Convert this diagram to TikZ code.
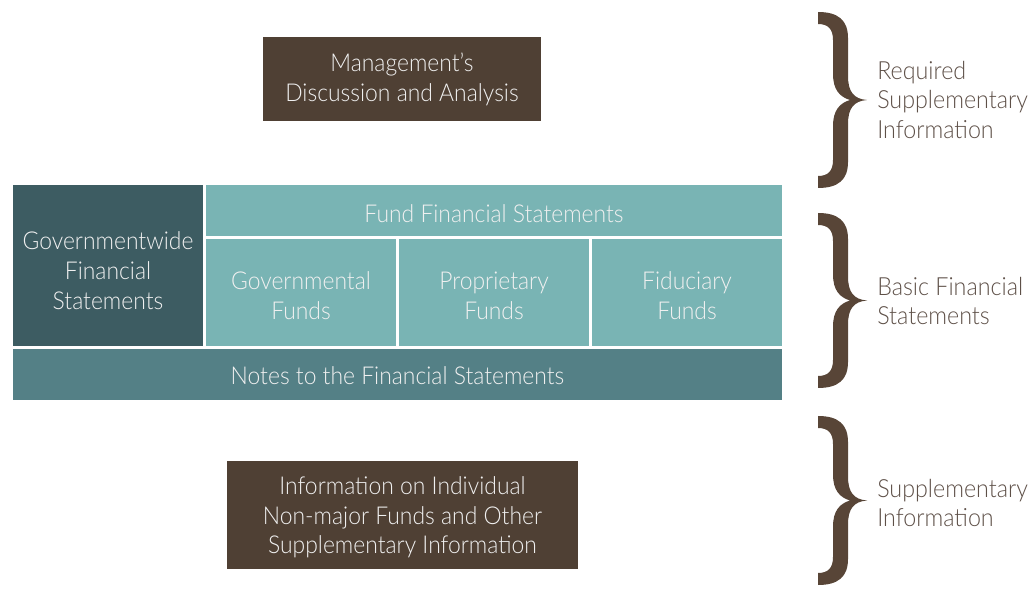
\documentclass[tikz,border=0pt]{standalone}
\usepackage{fontspec}
\setmainfont{Lato Light}[FakeStretch=0.93]

\definecolor{darkbrown}{HTML}{4F4034}
\definecolor{bracebrown}{HTML}{584537}
\definecolor{labelgrey}{HTML}{5E5048}
\definecolor{darkteal}{HTML}{3D5C62}
\definecolor{midteal}{HTML}{548086}
\definecolor{lightteal}{HTML}{79B4B4}

\newcommand\topfix[1]{\rule{0pt}{#1}}      % height of first line
\newcommand\botfix{\rule[-5pt]{0pt}{0pt}}  % depth of last line

\tikzset{statement/.style={inner sep=0pt, align=center, text=white!94!black,
                           font=\fontsize{17.5}{21.3}\selectfont}}
\tikzset{sidelabel/.style={inner sep=0pt, align=left, anchor=west, text=labelgrey,
                           font=\fontsize{17.8}{21.3}\selectfont}}

\begin{document}
\begin{tikzpicture}[x=0.025cm, y=-0.025cm]
  \useasboundingbox (0,0) rectangle (1032,589);
  %
  % boxes (sizes in cm, 1px = 0.025cm)
  \node[statement, fill=darkbrown, minimum width=6.95cm, minimum height=2.075cm]
       (mda) at (402,79) {\topfix{15.8pt}Management's\\Discussion and Analysis\botfix};
  \node[statement, fill=darkteal, minimum width=4.75cm, minimum height=4.025cm]
       (govwide) at (108,265.5) {\topfix{24.6pt}Governmentwide\\Financial\\Statements\botfix};
  \node[statement, fill=lightteal, minimum width=14.4cm, minimum height=1.275cm]
       (fundfs) at (494,210.5) {\topfix{22.2pt}Fund Financial Statements\botfix};
  \node[statement, fill=lightteal, minimum width=4.75cm, minimum height=2.675cm]
       (govfunds) at (301,292.5) {\topfix{21.9pt}Governmental\\Funds\botfix};
  \node[statement, fill=lightteal, minimum width=4.75cm, minimum height=2.675cm]
       (propfunds) at (494,292.5) {\topfix{21.9pt}Proprietary\\Funds\botfix};
  \node[statement, fill=lightteal, minimum width=4.75cm, minimum height=2.675cm]
       (fidfunds) at (687,292.5) {\topfix{21.9pt}Fiduciary\\Funds\botfix};
  \node[statement, fill=midteal, minimum width=19.225cm, minimum height=1.275cm]
       (notes) at (397.5,374.5) {\topfix{18.9pt}Notes to the Financial Statements\botfix};
  \node[statement, fill=darkbrown, minimum width=8.775cm, minimum height=2.7cm]
       (suppinfo) at (402.5,515) {\topfix{17.8pt}Information on Individual\\Non-major Funds and Other\\Supplementary Information\botfix};
  %
  % braces: top / height
  \foreach \btop/\bh in {12/176, 213/175, 416/169}
  {
    \pgfmathsetmacro\hh{\bh/2}
    \fill[bracebrown, shift={(818,\btop)}]
      (0,0) .. controls (20,0) and (30,8) .. (30,26)          % top end
      -- (30,\hh-24)
      .. controls (30,\hh-8) and (36,\hh-1) .. (49,\hh)       % tip
      .. controls (36,\hh+1) and (30,\hh+8) .. (30,\hh+24)
      -- (30,\bh-26)
      .. controls (30,\bh-8) and (20,\bh) .. (0,\bh)          % bottom end
      -- (0,\bh-12)
      .. controls (10,\bh-12) and (15,\bh-17) .. (15,\bh-28)
      -- (15,\hh+26)
      .. controls (15,\hh+10) and (22,\hh+3) .. (32,\hh)      % inner corner
      .. controls (22,\hh-3) and (15,\hh-10) .. (15,\hh-26)
      -- (15,28)
      .. controls (15,17) and (10,12) .. (0,12)
      -- cycle;
  }
  %
  % labels
  \node[sidelabel] (rsilabel) at (877,100) {Required\\Supplementary\\Information};
  \node[sidelabel] (bfslabel) at (877,301) {Basic Financial\\Statements};
  \node[sidelabel] (silabel)  at (877,503) {Supplementary\\Information};
\end{tikzpicture}
\end{document}
